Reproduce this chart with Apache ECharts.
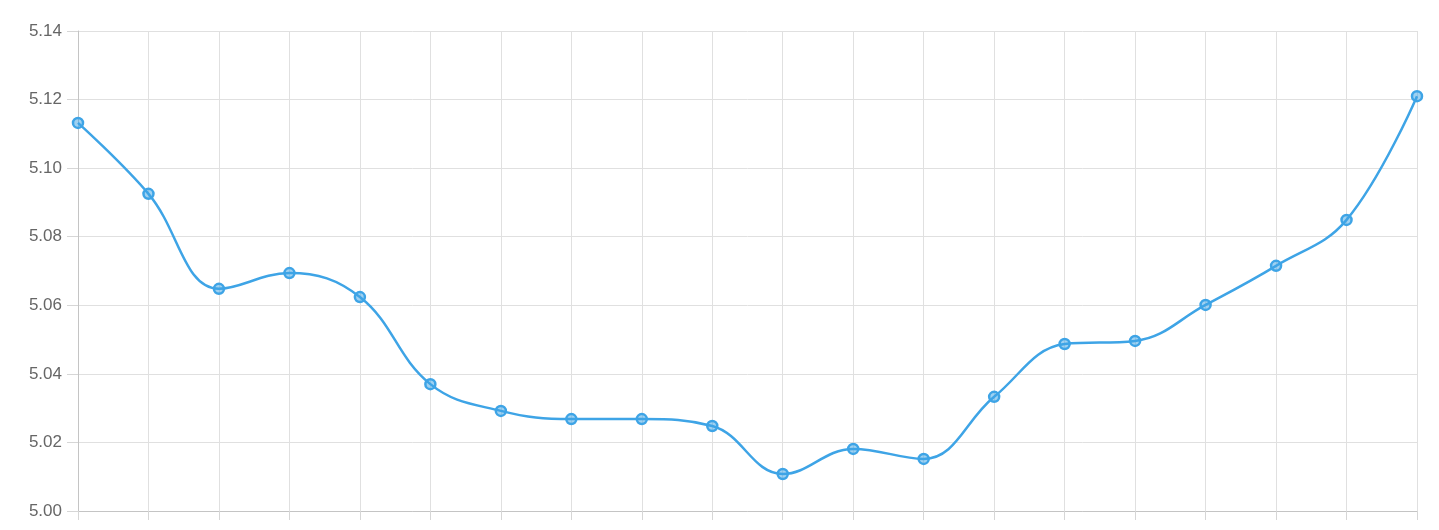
<!DOCTYPE html>
<html>
<head>
<meta charset="utf-8">
<script src="https://cdn.jsdelivr.net/npm/echarts@6/dist/echarts.min.js"></script>
<style>
  html, body { margin: 0; padding: 0; background: #fff; }
  #chart { width: 1439px; height: 530px; }
</style>
</head>
<body>
<div id="chart"></div>
<script>
// values
const categories = ["1", "2", "3", "4", "5", "6", "7", "8", "9", "10",
  "11", "12", "13", "14", "15", "16", "17", "18", "19", "20"];
const values = [5.1132, 5.0925, 5.0648, 5.0694, 5.0624, 5.0370, 5.0292, 5.0268, 5.0268, 5.0248,
  5.0108, 5.0181, 5.0152, 5.0333, 5.0487, 5.0496, 5.0601, 5.0715, 5.0849, 5.1210];
const yTicks = { min: 5.0, max: 5.14, step: 0.02 };

const chart = echarts.init(document.getElementById("chart"));
chart.setOption({
  animation: false,
  grid: { left: 78, right: 22, top: 31, bottom: 19, containLabel: false },
  xAxis: {
    type: "category",
    data: categories,
    boundaryGap: false,
    axisLine: { lineStyle: { color: "#c4c4c4" } },
    axisTick: { show: true, length: 9, alignWithLabel: true, interval: 0, lineStyle: { color: "#d6d6d6" } },
    axisLabel: { show: false },
    splitLine: { show: true, interval: 0, lineStyle: { color: "#e0e0e0" } }
  },
  yAxis: {
    type: "value",
    min: yTicks.min,
    max: yTicks.max,
    interval: yTicks.step,
    axisLine: { show: true, lineStyle: { color: "#c4c4c4" } },
    axisTick: { show: true, length: 11, lineStyle: { color: "#d6d6d6" } },
    axisLabel: {
      color: "#666",
      fontSize: 17,
      fontFamily: "Liberation Sans, Arial, sans-serif",
      margin: 16,
      formatter: v => v.toFixed(2)
    },
    splitLine: { lineStyle: { color: "#e0e0e0" } }
  },
  series: [{
    type: "line",
    data: values,
    smooth: 0.4,
    symbol: "circle",
    symbolSize: 10,
    lineStyle: { color: "#3ea4e6", width: 2.5 },
    itemStyle: { color: "rgba(62,164,230,0.5)", borderColor: "#3ea4e6", borderWidth: 2.5 }
  }]
});
</script>
</body>
</html>
